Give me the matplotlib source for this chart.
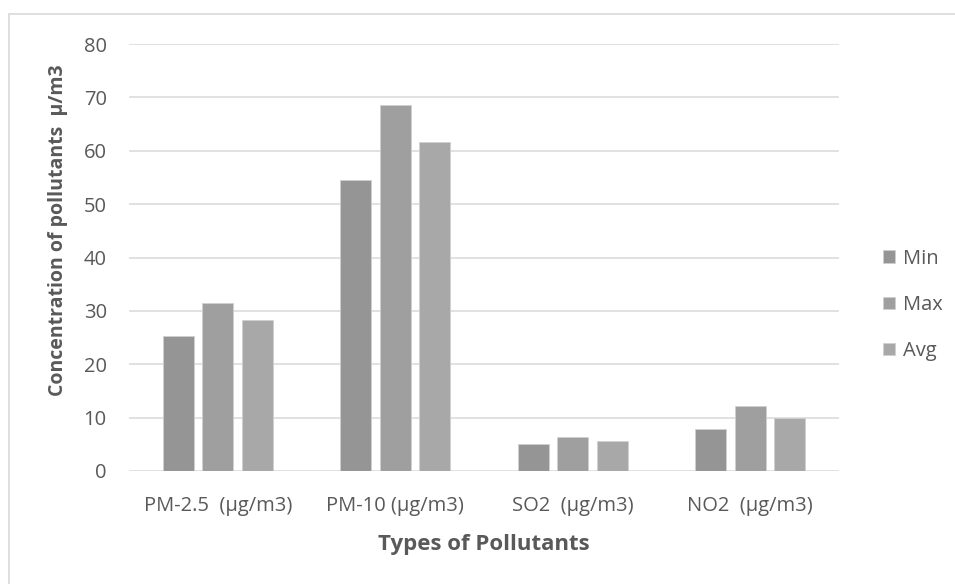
import matplotlib
matplotlib.use("Agg")
import matplotlib.pyplot as plt
import numpy as np
from matplotlib.patches import Rectangle

categories = ["PM-2.5  (µg/m3)", "PM-10 (µg/m3)", "SO2  (µg/m3)", "NO2  (µg/m3)"]
series_names = ["Min", "Max", "Avg"]
min_vals = [25.2, 54.6, 5.0, 7.8]
max_vals = [31.5, 68.6, 6.4, 12.1]
avg_vals = [28.3, 61.6, 5.7, 9.9]
colors = ["#959595", "#9f9f9f", "#a8a8a8"]
yticks = [0, 10, 20, 30, 40, 50, 60, 70, 80]

plt.rcParams['font.family'] = ['Open Sans', 'DejaVu Sans']
txt = "#595959"

W, H = 955, 584
fig = plt.figure(figsize=(W/100, H/100), dpi=100)
ax = fig.add_axes([129/W, 1-471/H, (839-129)/W, (471-44)/H])

x = np.arange(len(categories))
bw = 0.175
off = 0.2214
for i, (vals, c, name) in enumerate(zip([min_vals, max_vals, avg_vals], colors, series_names)):
    ax.bar(x + (i-1)*off, vals, bw, color=c, edgecolor="#d0d0d0", linewidth=0.6, label=name, zorder=3)

ax.set_xlim(-0.5, len(categories)-0.5)
ax.set_ylim(0, 80)
ax.set_yticks(yticks)
ax.set_yticklabels([str(v) for v in yticks])
ax.set_xticks(x)
ax.set_xticklabels(categories)
ax.grid(axis='y', color="#d9d9d9", linewidth=1.1, zorder=0)
for s in ax.spines.values():
    s.set_visible(False)
ax.tick_params(axis='both', length=0, colors=txt, labelsize=14.5)
ax.tick_params(axis='y', pad=16)
ax.tick_params(axis='x', pad=18)
ax.set_xlabel("Types of Pollutants", fontsize=16, fontweight='bold', color=txt, labelpad=13)
ax.set_ylabel("Concentration of pollutants  µ/m3", fontsize=14, fontweight='bold', color=txt, labelpad=8)
ax.yaxis.set_label_coords(-0.086, 0.564)

leg = fig.legend(loc='center left', bbox_to_anchor=(875/W, 1-305/H), frameon=False,
                 fontsize=14.5, labelspacing=1.3, handlelength=0.6, handleheight=0.6,
                 handletextpad=0.4, borderaxespad=0)
for t in leg.get_texts():
    t.set_color(txt)

fig.patches.append(Rectangle((9/W, -0.1), 1.2, 1-14/H+0.1, transform=fig.transFigure,
                             fill=False, edgecolor="#d9d9d9", linewidth=1.2))

fig.savefig("out.png", dpi=100)
